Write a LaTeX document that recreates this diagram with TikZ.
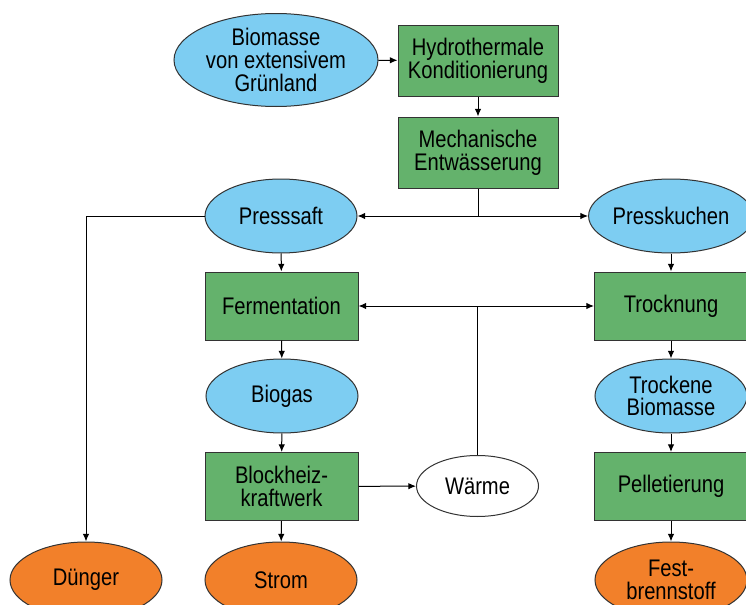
\documentclass[tikz,border=0pt]{standalone}
\usepackage{fontspec}
\setmainfont{Liberation Sans}[FakeStretch=0.84]
\usetikzlibrary{shapes.geometric,arrows.meta}

\definecolor{SkyBlue}{RGB}{125,205,242}
\definecolor{LeafGreen}{RGB}{100,178,108}
\definecolor{Pumpkin}{RGB}{242,128,42}

\begin{document}
\begin{tikzpicture}[x=.5pt,y=-.5pt,
  every node/.style={font=\fontsize{12}{11.4}\selectfont,align=center,inner sep=0pt,draw=black!80,line width=.5pt},
  prod/.style={ellipse,fill=SkyBlue,minimum width=76pt,minimum height=37pt},
  proc/.style={rectangle,fill=LeafGreen,minimum width=76.5pt,minimum height=34pt},
  final/.style={ellipse,fill=Pumpkin,minimum width=76pt,minimum height=38pt},
  flow/.style={-{Latex[length=3.8pt,width=3.2pt]},line width=.5pt},
  link/.style={line width=.5pt}]
\useasboundingbox (0,0) rectangle (746,605);

\node[prod,minimum width=102pt,minimum height=46.5pt] (bio) at (276,60) {Biomasse\\von extensivem\\Grünland};
\node[proc,minimum width=80pt,minimum height=35.5pt] (hydro) at (478,60.5) {Hydrothermale\\Konditionierung};
\node[proc,minimum width=80pt,minimum height=35.5pt] (mech) at (478,152.5) {Mechanische\\Entwässerung};

\node[prod] (saft) at (281,216) {Presssaft};
\node[prod] (kuchen) at (671,216) {Presskuchen};

\node[proc] (ferm) at (281.5,306) {Fermentation};
\node[proc] (trock) at (671,306) {Trocknung};

\node[prod] (gas) at (282,396) {Biogas};
\node[prod] (tbio) at (671,396) {Trockene\\Biomasse};

\node[proc] (bhkw) at (281.5,486.5) {Blockheiz-\\kraftwerk};
\node[ellipse,fill=white,minimum width=61pt,minimum height=30.5pt] (waerme) at (477.5,486) {Wärme};
\node[proc] (pellet) at (671,486.5) {Pelletierung};

\node[final] (duenger) at (86,580) {Dünger};
\node[final] (strom) at (281,580) {Strom};
\node[final] (fest) at (671,580) {Fest-\\brennstoff};

\coordinate (press) at (478,216);
\coordinate (heat) at (waerme.north |- ferm.east);

\draw[flow] (bio) -- (hydro);
\draw[flow] (hydro) -- (mech);
\draw[link] (mech) -- (press);
\draw[flow] (press) -- (saft);
\draw[flow] (press) -- (kuchen);
\draw[flow] (saft.west) -| (duenger);

\draw[flow] (saft) -- (ferm);
\draw[flow] (ferm) -- (gas);
\draw[flow] (gas) -- (bhkw);
\draw[flow] (bhkw) -- (strom);
\draw[flow] (bhkw) -- (waerme);
\draw[link] (waerme) -- (heat);
\draw[flow] (heat) -- (ferm);
\draw[flow] (heat) -- (trock);

\draw[flow] (kuchen) -- (trock);
\draw[flow] (trock) -- (tbio);
\draw[flow] (tbio) -- (pellet);
\draw[flow] (pellet) -- (fest);

\end{tikzpicture}
\end{document}
